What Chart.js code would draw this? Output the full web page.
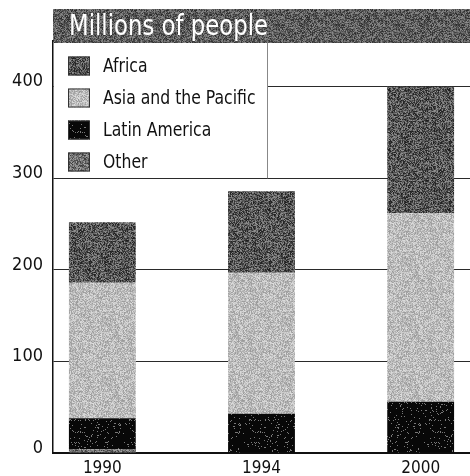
<!DOCTYPE html>
<html>
<head>
<meta charset="utf-8">
<script src="https://cdn.jsdelivr.net/npm/chart.js@4/dist/chart.umd.min.js"></script>
<style>
  html, body { margin: 0; padding: 0; background: #fff; }
  #wrap { width: 470px; height: 476px; }
</style>
</head>
<body>
<div id="wrap"><canvas id="peopleChart" width="470" height="476"></canvas></div>
<script>
// values (millions of people)
var years = ['1990', '1994', '2000'];
var other = [4, 0, 0];
var latinAmerica = [34, 43, 56];
var asiaPacific = [148, 154, 206];
var africa = [66, 89, 138];
var yTicks = [0, 100, 200, 300, 400];
var legendOrder = ['Africa', 'Asia and the Pacific', 'Latin America', 'Other'];
var titleText = 'Millions of people';

var FONT = '"DejaVu Sans Condensed", "Liberation Sans Narrow", sans-serif';

// grainy print-like fills, shade(h) turns a 0..1 hash into a grey level
function stipple(shade, seed) {
  var c = document.createElement('canvas');
  c.width = 60; c.height = 60;
  var g = c.getContext('2d');
  var img = g.createImageData(60, 60);
  for (var y = 0; y < 60; y++) {
    for (var x = 0; x < 60; x++) {
      var h = Math.sin(x * 12.9898 + y * 78.233 + seed) * 43758.5453;
      h = h - Math.floor(h);
      var v = Math.max(0, Math.min(255, Math.round(shade(h))));
      var k = (y * 60 + x) * 4;
      img.data[k] = img.data[k + 1] = img.data[k + 2] = v;
      img.data[k + 3] = 255;
    }
  }
  g.putImageData(img, 0, 0);
  return g.createPattern(c, 'repeat');
}

var fills = {
  'Africa': stipple(function(h) { return 88 + (h - 0.5) * 120; }, 1.3),
  'Asia and the Pacific': stipple(function(h) { return 188 + (h - 0.5) * 70; }, 2.7),
  'Latin America': stipple(function(h) { return h > 0.93 ? 120 : 8; }, 3.1),
  'Other': stipple(function(h) { return 112 + (h - 0.5) * 110; }, 4.9)
};
var bandFill = stipple(function(h) { return 92 + (h - 0.5) * 100; }, 5.5);

function pts(arr) {
  return arr.map(function(v, i) { return { x: i, y: v }; });
}

var overlay = {
  id: 'overlay',
  afterDraw: function(chart) {
    var ctx = chart.ctx;
    var area = chart.chartArea;
    var yS = chart.scales.y;
    ctx.save();
    // legend box
    var boxBottom = yS.getPixelForValue(300);
    ctx.fillStyle = '#fff';
    ctx.fillRect(area.left + 1, 43, 267 - area.left - 1, boxBottom - 43 - 1);
    ctx.strokeStyle = '#888';
    ctx.lineWidth = 1;
    ctx.beginPath();
    ctx.moveTo(267.5, 43);
    ctx.lineTo(267.5, boxBottom);
    ctx.stroke();
    // title band
    ctx.fillStyle = bandFill;
    ctx.fillRect(area.left, 9, 470 - area.left, 34);
    ctx.fillStyle = '#fff';
    ctx.font = '29px ' + FONT;
    ctx.textBaseline = 'alphabetic';
    var w = ctx.measureText(titleText).width;
    ctx.translate(69, 35);
    ctx.scale(199 / w, 1);
    ctx.fillText(titleText, 0, 0);
    ctx.setTransform(1, 0, 0, 1, 0, 0);
    // legend items
    ctx.font = '20px ' + FONT;
    ctx.textBaseline = 'middle';
    legendOrder.forEach(function(name, i) {
      var ds = chart.data.datasets.find(function(d) { return d.label === name; });
      var cy = 66 + i * 32;
      ctx.fillStyle = ds.backgroundColor;
      ctx.fillRect(68, cy - 9.5, 22, 19);
      ctx.strokeStyle = '#333';
      ctx.strokeRect(68.5, cy - 9, 21, 18);
      ctx.fillStyle = '#111';
      ctx.save();
      ctx.translate(103, cy + 1);
      ctx.scale(0.87, 1);
      ctx.fillText(name, 0, 0);
      ctx.restore();
    });
    ctx.restore();
  }
};

var ctx = document.getElementById('peopleChart').getContext('2d');
Chart.defaults.font.family = FONT;

new Chart(ctx, {
  type: 'bar',
  data: {
    datasets: [
      { label: 'Other', data: pts(other), backgroundColor: fills['Other'] },
      { label: 'Latin America', data: pts(latinAmerica), backgroundColor: fills['Latin America'] },
      { label: 'Asia and the Pacific', data: pts(asiaPacific), backgroundColor: fills['Asia and the Pacific'] },
      { label: 'Africa', data: pts(africa), backgroundColor: fills['Africa'] }
    ]
  },
  options: {
    responsive: false,
    animation: false,
    devicePixelRatio: 1,
    layout: { padding: { top: 41, right: 0, bottom: 0, left: 0 } },
    datasets: { bar: { barPercentage: 0.42, categoryPercentage: 1, borderWidth: 0 } },
    plugins: { legend: { display: false }, tooltip: { enabled: false } },
    scales: {
      x: {
        type: 'linear',
        stacked: true,
        offset: false,
        min: -0.31,
        max: 2.31,
        afterBuildTicks: function(axis) {
          axis.ticks = years.map(function(_, i) { return { value: i }; });
        },
        afterFit: function(scale) { scale.height = 23; },
        grid: { display: false, drawTicks: false },
        border: { display: true, color: '#111', width: 2 },
        ticks: {
          padding: 5,
          maxRotation: 0,
          color: '#111',
          font: { size: 17 },
          callback: function(v) { return years[v]; }
        }
      },
      y: {
        stacked: true,
        min: 0,
        max: 450,
        afterBuildTicks: function(axis) {
          axis.ticks = yTicks.map(function(v) { return { value: v }; });
        },
        afterFit: function(scale) { scale.width = 53; },
        grid: { color: '#2a2a2a', lineWidth: 1, drawTicks: false },
        border: { display: true, color: '#111', width: 1.5 },
        ticks: {
          padding: 10,
          labelOffset: -5,
          color: '#111',
          font: { size: 18 }
        }
      }
    }
  },
  plugins: [overlay]
});
</script>
</body>
</html>
